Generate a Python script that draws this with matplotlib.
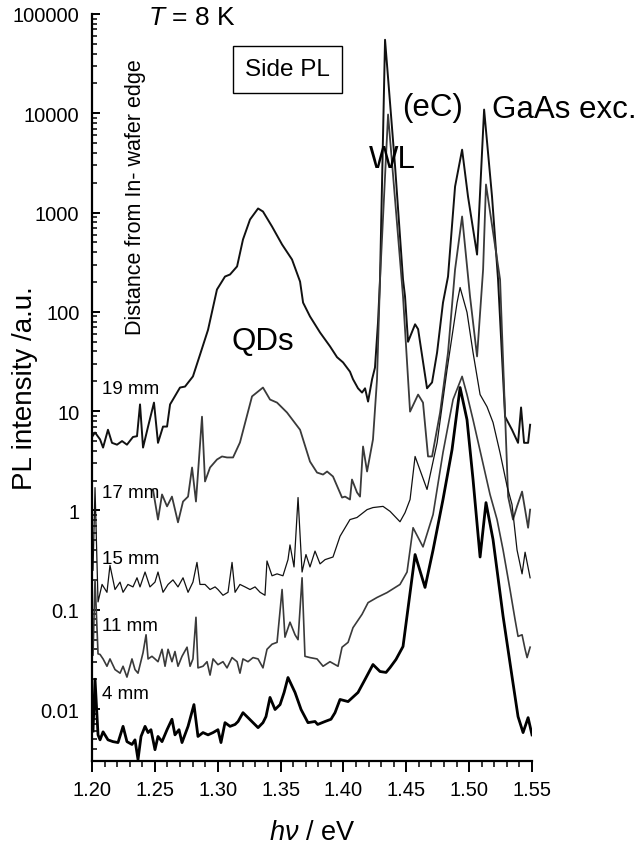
import numpy as np
import matplotlib
matplotlib.use('Agg')
import matplotlib.pyplot as plt
from matplotlib.ticker import FixedLocator, FixedFormatter, MultipleLocator, LogLocator, NullFormatter

plt.rcParams['font.family'] = ['Liberation Sans', 'DejaVu Sans']
plt.rcParams['mathtext.fontset'] = 'custom'
plt.rcParams['mathtext.rm'] = 'Liberation Sans'
plt.rcParams['mathtext.it'] = 'Liberation Sans:italic'

# PL spectra (energy in eV, intensity in a.u.)
e19 = [1.2000, 1.2024, 1.2064, 1.2088, 1.2127, 1.2159, 1.2199, 1.2239, 1.2278, 1.2326,
       1.2358, 1.2382, 1.2406, 1.2446, 1.2493, 1.2525, 1.2565, 1.2597, 1.2621, 1.2644,
       1.2700, 1.2740, 1.2803, 1.2859, 1.2923, 1.2994, 1.3058, 1.3098, 1.3154, 1.3201,
       1.3257, 1.3321, 1.3360, 1.3432, 1.3512, 1.3591, 1.3655, 1.3679, 1.3734, 1.3814,
       1.3893, 1.3949, 1.3997, 1.4052, 1.4076, 1.4116, 1.4148, 1.4172, 1.4196, 1.4228,
       1.4251, 1.4275, 1.4291, 1.4331, 1.4411, 1.4474, 1.4490, 1.4514, 1.4570, 1.4594,
       1.4665, 1.4705, 1.4745, 1.4792, 1.4832, 1.4888, 1.4944, 1.4991, 1.5063, 1.5119,
       1.5182, 1.5230, 1.5286, 1.5341, 1.5389, 1.5413, 1.5437, 1.5469, 1.5485]
i19 = [5.5, 6.1, 5.2, 4.3, 6.5, 4.8, 4.6, 5.0, 4.6, 5.5,
       5.6, 11.7, 4.3, 7.0, 12.2, 4.8, 7.0, 7.0, 11.7, 13.1,
       17.3, 17.7, 22.4, 37, 66, 168, 227, 238, 287, 536,
       852, 1100, 1025, 724, 477, 337, 202, 124, 90, 62,
       45, 35, 31, 25, 21, 17, 15.4, 17, 12.5, 21,
       27.5, 78, 212, 55000, 2900, 212, 143, 50, 75, 67,
       17, 19.5, 39, 124, 227, 1830, 4300, 1450, 378, 10900,
       1450, 212, 8.8, 6.5, 4.8, 10.9, 4.8, 4.8, 7.3]

e17 = [1.2485, 1.2525, 1.2557, 1.2597, 1.2636, 1.2684, 1.2724, 1.2764, 1.2796, 1.2827,
       1.2875, 1.2899, 1.2939, 1.2994, 1.3034, 1.3074, 1.3122, 1.3177, 1.3273, 1.3360,
       1.3416, 1.3472, 1.3551, 1.3655, 1.3734, 1.3790, 1.3838, 1.3870, 1.3917, 1.3989,
       1.4013, 1.4052, 1.4068, 1.4108, 1.4132, 1.4156, 1.4188, 1.4235, 1.4267, 1.4291,
       1.4355, 1.4474, 1.4530, 1.4594, 1.4633, 1.4673, 1.4705, 1.4769, 1.4832, 1.4888,
       1.4944, 1.5007, 1.5063, 1.5111, 1.5134, 1.5246, 1.5310, 1.5349, 1.5381, 1.5421,
       1.5445, 1.5469, 1.5485]
i17 = [1.63, 0.81, 1.45, 1.10, 1.38, 0.76, 1.23, 1.38, 2.71, 1.23,
       8.8, 1.96, 2.71, 3.26, 3.50, 3.42, 3.42, 4.84, 14.1, 17.3,
       13.1, 12.2, 9.7, 6.5, 3.11, 2.41, 2.30, 2.47, 2.20, 1.35,
       1.38, 1.29, 2.05, 1.52, 1.38, 4.41, 2.47, 5.19, 20.8, 212,
       9720, 143, 9.9, 14.7, 12.2, 3.5, 3.5, 9.7, 39, 267,
       914, 143, 35.6, 267, 1920, 212, 1.38, 0.81, 1.10, 1.55,
       1.02, 0.67, 1.02]

e15 = [1.2008, 1.2024, 1.2048, 1.2080, 1.2119, 1.2143, 1.2183, 1.2223, 1.2247, 1.2286,
       1.2326, 1.2358, 1.2382, 1.2422, 1.2461, 1.2501, 1.2525, 1.2565, 1.2605, 1.2644,
       1.2684, 1.2724, 1.2764, 1.2803, 1.2835, 1.2859, 1.2899, 1.2939, 1.2979, 1.3002,
       1.3042, 1.3082, 1.3114, 1.3138, 1.3177, 1.3217, 1.3257, 1.3297, 1.3337, 1.3376,
       1.3392, 1.3432, 1.3472, 1.3519, 1.3559, 1.3575, 1.3607, 1.3639, 1.3671, 1.3702,
       1.3734, 1.3774, 1.3814, 1.3854, 1.3917, 1.3973, 1.4052, 1.4108, 1.4188, 1.4235,
       1.4315, 1.4371, 1.4450, 1.4490, 1.4530, 1.4570, 1.4665, 1.4745, 1.4824, 1.4904,
       1.4928, 1.4983, 1.5031, 1.5087, 1.5142, 1.5190, 1.5246, 1.5302, 1.5341, 1.5381,
       1.5421, 1.5445, 1.5485]
i15 = [0.25, 1.7, 0.12, 0.18, 0.15, 0.28, 0.16, 0.19, 0.15, 0.18,
       0.17, 0.21, 0.17, 0.24, 0.17, 0.19, 0.24, 0.15, 0.18, 0.20,
       0.17, 0.21, 0.15, 0.19, 0.30, 0.18, 0.18, 0.16, 0.17, 0.16,
       0.14, 0.15, 0.30, 0.15, 0.18, 0.17, 0.16, 0.17, 0.15, 0.14,
       0.31, 0.22, 0.23, 0.22, 0.32, 0.45, 0.27, 1.35, 0.24, 0.36,
       0.27, 0.39, 0.29, 0.32, 0.34, 0.55, 0.81, 0.85, 1.02, 1.07,
       1.10, 0.98, 0.77, 0.95, 1.29, 3.5, 1.63, 4.8, 26, 124,
       176, 99, 39, 14.7, 11.1, 7.7, 3.8, 1.75, 1.15, 0.40,
       0.23, 0.38, 0.21]

e11 = [1.2008, 1.2024, 1.2048, 1.2064, 1.2088, 1.2119, 1.2143, 1.2183, 1.2223, 1.2247,
       1.2278, 1.2318, 1.2342, 1.2366, 1.2406, 1.2430, 1.2446, 1.2477, 1.2501, 1.2525,
       1.2557, 1.2581, 1.2605, 1.2636, 1.2660, 1.2684, 1.2716, 1.2756, 1.2780, 1.2803,
       1.2827, 1.2843, 1.2883, 1.2915, 1.2939, 1.2963, 1.3002, 1.3042, 1.3074, 1.3114,
       1.3154, 1.3177, 1.3201, 1.3241, 1.3281, 1.3321, 1.3360, 1.3392, 1.3432, 1.3472,
       1.3512, 1.3535, 1.3575, 1.3615, 1.3639, 1.3671, 1.3694, 1.3734, 1.3790, 1.3838,
       1.3893, 1.3957, 1.3989, 1.4037, 1.4076, 1.4148, 1.4196, 1.4267, 1.4347, 1.4450,
       1.4506, 1.4554, 1.4633, 1.4713, 1.4792, 1.4872, 1.4944, 1.4983, 1.5031, 1.5103,
       1.5166, 1.5222, 1.5270, 1.5325, 1.5365, 1.5389, 1.5421, 1.5445, 1.5461, 1.5485]
i11 = [0.035, 0.20, 0.036, 0.0355, 0.032, 0.027, 0.032, 0.025, 0.023, 0.027,
       0.021, 0.032, 0.025, 0.023, 0.037, 0.056, 0.032, 0.034, 0.032, 0.030,
       0.040, 0.027, 0.040, 0.030, 0.038, 0.027, 0.034, 0.042, 0.027, 0.032,
       0.084, 0.026, 0.027, 0.030, 0.022, 0.032, 0.028, 0.030, 0.026, 0.033,
       0.030, 0.023, 0.032, 0.030, 0.033, 0.032, 0.026, 0.040, 0.045, 0.047,
       0.16, 0.053, 0.075, 0.056, 0.050, 0.21, 0.034, 0.033, 0.032, 0.027,
       0.030, 0.027, 0.042, 0.047, 0.066, 0.090, 0.118, 0.133, 0.149, 0.18,
       0.24, 0.67, 0.43, 0.91, 3.84, 13.1, 22.4, 14.7, 8.2, 3.26,
       1.45, 0.81, 0.40, 0.16, 0.080, 0.054, 0.056, 0.040, 0.033, 0.042]

e4 = [1.2008, 1.2024, 1.2048, 1.2064, 1.2088, 1.2127, 1.2167, 1.2207, 1.2247, 1.2278,
      1.2318, 1.2342, 1.2366, 1.2390, 1.2422, 1.2446, 1.2469, 1.2501, 1.2525, 1.2557,
      1.2597, 1.2636, 1.2660, 1.2692, 1.2716, 1.2764, 1.2811, 1.2843, 1.2883, 1.2923,
      1.2963, 1.3002, 1.3026, 1.3058, 1.3098, 1.3138, 1.3162, 1.3201, 1.3241, 1.3281,
      1.3321, 1.3360, 1.3384, 1.3416, 1.3456, 1.3496, 1.3528, 1.3559, 1.3615, 1.3663,
      1.3718, 1.3774, 1.3795, 1.3854, 1.3901, 1.3933, 1.3973, 1.4037, 1.4116, 1.4172,
      1.4235, 1.4291, 1.4339, 1.4371, 1.4418, 1.4474, 1.4570, 1.4649, 1.4713, 1.4792,
      1.4864, 1.4928, 1.4983, 1.5031, 1.5087, 1.5134, 1.5190, 1.5270, 1.5341, 1.5389,
      1.5429, 1.5469, 1.5500]
i4 = [0.006, 0.020, 0.0055, 0.0049, 0.0059, 0.0049, 0.0047, 0.0046, 0.0067, 0.0047,
      0.0044, 0.0049, 0.0031, 0.0053, 0.0067, 0.0058, 0.0062, 0.0039, 0.0053, 0.0047,
      0.0062, 0.0079, 0.0055, 0.0062, 0.0046, 0.0067, 0.0111, 0.0053, 0.0058, 0.0055,
      0.0058, 0.0062, 0.0046, 0.0073, 0.0067, 0.0070, 0.0075, 0.0092, 0.0082, 0.0073,
      0.0065, 0.0073, 0.0084, 0.0131, 0.0099, 0.0111, 0.0147, 0.0208, 0.0147, 0.0099,
      0.0073, 0.0075, 0.0070, 0.0075, 0.0079, 0.0092, 0.0125, 0.0119, 0.0147, 0.0199,
      0.0281, 0.0239, 0.0234, 0.0262, 0.0316, 0.0427, 0.36, 0.168, 0.40, 1.29,
      4.1, 17.3, 8.2, 2.05, 0.34, 1.2, 0.51, 0.086, 0.0213, 0.0084,
      0.0058, 0.0082, 0.0055]

curve_labels = ['19 mm', '17 mm', '15 mm', '11 mm', '4 mm']
ytick_vals = [0.01, 0.1, 1, 10, 100, 1000, 10000, 100000]
ytick_text = ['0.01', '0.1', '1', '10', '100', '1000', '10000', '100000']
xtick_vals = [1.20, 1.25, 1.30, 1.35, 1.40, 1.45, 1.50, 1.55]
xtick_text = ['1.20', '1.25', '1.30', '1.35', '1.40', '1.45', '1.50', '1.55']

fig = plt.figure(figsize=(6.42, 8.53), dpi=100)
ax = fig.add_axes([92/642, 1-762/853, 440/642, 747/853])

ax.plot(e19, i19, color='#111111', lw=1.4)
ax.plot(e17, i17, color='#3a3a3a', lw=1.3)
ax.plot(e15, i15, color='#111111', lw=0.9)
ax.plot(e11, i11, color='#3a3a3a', lw=1.2)
ax.plot(e4, i4, color='#000000', lw=2.0)

ax.set_yscale('log')
ax.set_xlim(1.20, 1.55)
ax.set_ylim(0.003, 1e5)

for s in ['top', 'right']:
    ax.spines[s].set_visible(False)
for s in ['left', 'bottom']:
    ax.spines[s].set_linewidth(1.6)

ax.yaxis.set_major_locator(FixedLocator(ytick_vals))
ax.yaxis.set_major_formatter(FixedFormatter(ytick_text))
ax.yaxis.set_minor_locator(LogLocator(base=10, subs=np.arange(2, 10)))
ax.yaxis.set_minor_formatter(NullFormatter())
ax.xaxis.set_major_locator(FixedLocator(xtick_vals))
ax.xaxis.set_major_formatter(FixedFormatter(xtick_text))
ax.xaxis.set_minor_locator(MultipleLocator(0.01))

ax.tick_params(axis='y', which='major', direction='in', length=6, width=1.4, labelsize=14.5, pad=9)
ax.tick_params(axis='y', which='minor', direction='in', length=3.5, width=1.1)
ax.tick_params(axis='x', which='major', direction='out', length=8, width=1.4, labelsize=14.5, pad=6)
ax.tick_params(axis='x', which='minor', direction='out', length=4.5, width=1.1)

ax.set_ylabel('PL intensity /a.u.', fontsize=20)
ax.yaxis.set_label_coords(-0.123, 0.5)
ax.set_xlabel(r'$h\nu$ / eV', fontsize=19.5)
ax.xaxis.set_label_coords(0.5, -0.078)

fig.text(192/642, 1-18/853, r'$T$ = 8 K', fontsize=19, ha='center', va='center')
fig.text(287.5/642, 1-70.5/853, 'Side PL', fontsize=17.5, ha='center', va='center',
         bbox=dict(boxstyle='square,pad=0.5', fc='white', ec='black', lw=1.0))
fig.text(135/642, 1-197/853, 'Distance from In- wafer edge', fontsize=15.5,
         rotation=90, ha='center', va='center')

fig.text(263/642, 1-342/853, 'QDs', fontsize=22.5, ha='center', va='center')
fig.text(392/642, 1-160/853, 'WL', fontsize=22.5, ha='center', va='center')
fig.text(433/642, 1-108/853, '(eC)', fontsize=22.5, ha='center', va='center')
fig.text(564/642, 1-110/853, 'GaAs exc.', fontsize=22.5, ha='center', va='center')

label_y = [390, 493, 560, 627, 695]
for txt, yp in zip(curve_labels, label_y):
    fig.text(102/642, 1-yp/853, txt, fontsize=13.5, ha='left', va='center')

fig.savefig('out.png', dpi=100)
